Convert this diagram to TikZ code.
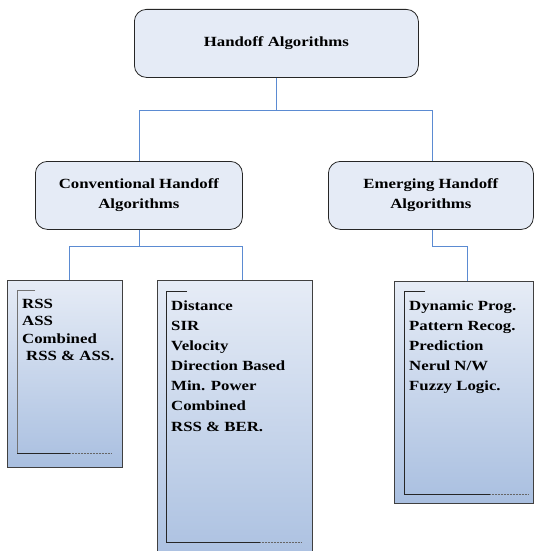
\documentclass[tikz,border=0pt]{standalone}
\usepackage{fontspec}
\setmainfont{Liberation Serif}[FakeStretch=1.2]
\usetikzlibrary{calc}
\definecolor{boxfill}{HTML}{E5EBF6}
\definecolor{gradtop}{HTML}{E6ECF6}
\definecolor{gradbot}{HTML}{A9BFE0}
\definecolor{connblue}{HTML}{5B8BD2}
\tikzset{
  topbox/.style={draw=black!85, line width=0.8pt, fill=boxfill, rounded corners=12pt,
    inner sep=0pt, anchor=north west, align=center,
    font=\fontsize{14}{20}\selectfont\bfseries},
  lowbox/.style={draw=black!75, line width=0.8pt, top color=gradtop, bottom color=gradbot,
    inner sep=0pt, anchor=north west},
  conn/.style={draw=connblue, line width=0.8pt},
  item/.style={anchor=base west, inner sep=0pt, font=\fontsize{14}{17}\selectfont\bfseries},
  brk/.style={draw=black!85, line width=0.7pt},
  brkdot/.style={draw=black!60, line width=0.6pt, dash pattern=on 0.5pt off 1pt}
}
\begin{document}
\begin{tikzpicture}[x=1pt,y=-1pt]
\useasboundingbox (0,0) rectangle (534,551);
\clip (0,0) rectangle (534,551);
% top level
\node[topbox, minimum width=284pt, minimum height=68pt] (top) at (134,9) {Handoff Algorithms};
\node[topbox, minimum width=207pt, minimum height=68pt] (conv) at (35,161) {Conventional Handoff\\Algorithms};
\node[topbox, minimum width=205pt, minimum height=68pt] (emer) at (328,161) {Emerging Handoff\\Algorithms};
% lower boxes
\node[lowbox, minimum width=115pt, minimum height=187pt] (lbox) at (7,280) {};
\node[lowbox, minimum width=155pt, minimum height=290pt] (mbox) at (157,280) {};
\node[lowbox, minimum width=139pt, minimum height=222pt] (rbox) at (394,281) {};
% connectors
\draw[conn] (top.south) -- ++(0,33) -| (conv.north);
\draw[conn] (top.south) -- ++(0,33) -| ([xshift=1.5pt]emer.north);
\draw[conn] (conv.south) -- ++(0,17) -| ([xshift=4.5pt]lbox.north);
\draw[conn] (conv.south) -- ++(0,17) -| ([xshift=7.5pt]mbox.north);
\draw[conn] ([xshift=1.5pt]emer.south) -- ++(0,17) -| ([xshift=3.5pt]rbox.north);
% brackets
\draw[brk, draw=black!55] (35,290) -- (17,290) -- (17,453);
\draw[brk] (17,453) -- (70,453);
\draw[brkdot] (70,453) -- (111,453);
\draw[brk] (187,291) -- (166,291) -- (166,542);
\draw[brk] (166,542) -- (260,542);
\draw[brkdot] (260,542) -- (301,542);
\draw[brk] (425,291) -- (404,291) -- (404,494);
\draw[brk] (404,494) -- (490,494);
\draw[brkdot] (490,494) -- (528,494);
% texts
\node[item] (l1) at (22,308) {RSS};
\node[item] (l2) at (22,325) {ASS};
\node[item] (l3) at (22,343) {Combined};
\node[item] (l4) at (26,360) {RSS \& ASS.};
\node[item] (m1) at (171,310) {Distance};
\node[item] (m2) at (171,330) {SIR};
\node[item] (m3) at (171,350) {Velocity};
\node[item] (m4) at (171,370) {Direction Based};
\node[item] (m5) at (171,390) {Min. Power};
\node[item] (m6) at (171,410) {Combined};
\node[item] (m7) at (171,431) {RSS \& BER.};
\node[item] (r1) at (409,310) {Dynamic Prog.};
\node[item] (r2) at (409,330) {Pattern Recog.};
\node[item] (r3) at (409,350) {Prediction};
\node[item] (r4) at (409,370) {Nerul N/W};
\node[item] (r5) at (409,390) {Fuzzy Logic.};
\end{tikzpicture}
\end{document}
